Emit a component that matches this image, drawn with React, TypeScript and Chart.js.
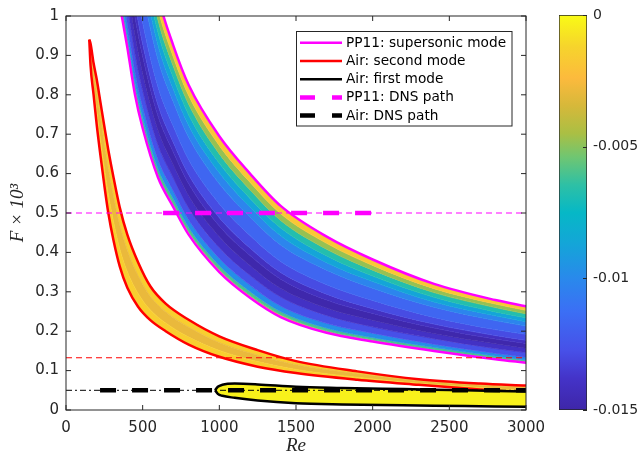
import React, { useEffect, useRef } from 'react';
import { Chart, registerables } from 'chart.js';

Chart.register(...registerables);

// ---------- axes ----------
const X_TICKS = [0, 500, 1000, 1500, 2000, 2500, 3000];
const X_TICK_LABELS = ['0', '500', '1000', '1500', '2000', '2500', '3000'];
const Y_TICKS = [0, 0.1, 0.2, 0.3, 0.4, 0.5, 0.6, 0.7, 0.8, 0.9, 1];
const Y_TICK_LABELS = ['0', '0.1', '0.2', '0.3', '0.4', '0.5', '0.6', '0.7', '0.8', '0.9', '1'];
const CB_TICKS = [-0.015, -0.01, -0.005, 0];
const CB_TICK_LABELS = ['-0.015', '-0.01', '-0.005', '0'];
const CB_MIN = -0.015;
const CB_MAX = 0;

// ---------- PP11 supersonic mode: iso-contours of growth rate (top to bottom) ----------
const SS_RE = [350, 400, 450, 500, 600, 700, 800, 1000, 1200, 1400, 1700, 2000, 2400, 2800, 3000];
const SS_UPPER = [1.70, 1.52, 1.38, 1.25, 1.05, 0.925, 0.825, 0.695, 0.600, 0.518, 0.440, 0.382, 0.320, 0.279, 0.263];
const SS_C1 = [1.653, 1.478, 1.339, 1.213, 1.018, 0.896, 0.798, 0.671, 0.578, 0.498, 0.423, 0.367, 0.308, 0.269, 0.253];
const SS_C2 = [1.613, 1.442, 1.305, 1.18, 0.99, 0.872, 0.776, 0.65, 0.559, 0.481, 0.408, 0.355, 0.298, 0.26, 0.244];
const SS_C3 = [1.566, 1.40, 1.264, 1.143, 0.958, 0.843, 0.749, 0.626, 0.537, 0.462, 0.391, 0.34, 0.286, 0.249, 0.234];
const SS_C4 = [1.519, 1.358, 1.223, 1.106, 0.926, 0.814, 0.722, 0.602, 0.515, 0.442, 0.374, 0.326, 0.274, 0.239, 0.224];
const SS_C5 = [1.466, 1.31, 1.177, 1.063, 0.889, 0.782, 0.692, 0.574, 0.49, 0.419, 0.355, 0.309, 0.261, 0.227, 0.213];
const SS_C6 = [1.365, 1.22, 1.09, 0.983, 0.82, 0.72, 0.635, 0.523, 0.443, 0.377, 0.318, 0.278, 0.235, 0.204, 0.192];
const SS_C7 = [1.298, 1.16, 1.032, 0.929, 0.774, 0.679, 0.597, 0.488, 0.411, 0.349, 0.294, 0.257, 0.218, 0.189, 0.177];
const SS_C8 = [1.258, 1.124, 0.997, 0.897, 0.746, 0.654, 0.574, 0.467, 0.392, 0.332, 0.279, 0.245, 0.208, 0.18, 0.169];
const SS_C9 = [1.204, 1.076, 0.951, 0.854, 0.71, 0.622, 0.544, 0.44, 0.367, 0.309, 0.259, 0.228, 0.194, 0.168, 0.157];
const SS_C10 = [1.151, 1.028, 0.904, 0.811, 0.673, 0.589, 0.513, 0.412, 0.342, 0.287, 0.24, 0.211, 0.181, 0.156, 0.146];
const SS_C11 = [1.097, 0.98, 0.858, 0.769, 0.636, 0.556, 0.483, 0.385, 0.317, 0.264, 0.22, 0.195, 0.167, 0.144, 0.134];
const SS_C12 = [1.064, 0.95, 0.829, 0.742, 0.613, 0.536, 0.464, 0.367, 0.301, 0.25, 0.208, 0.184, 0.159, 0.137, 0.127];
const SS_C13 = [1.043, 0.932, 0.812, 0.726, 0.599, 0.523, 0.453, 0.357, 0.291, 0.242, 0.201, 0.178, 0.153, 0.132, 0.123];
const SS_LOWER = [1.03, 0.92, 0.80, 0.715, 0.59, 0.515, 0.445, 0.35, 0.285, 0.236, 0.196, 0.174, 0.150, 0.129, 0.120];
// growth rate inside each band between consecutive contours
const SS_BAND_LEVELS = [-0.0018, -0.0048, -0.00675, -0.0087, -0.0102, -0.0117, -0.0129, -0.0141, -0.01485, -0.01395, -0.01275, -0.00975, -0.006, -0.0018];

// ---------- Air second mode ----------
const SM_RE = [152, 160, 180, 200, 225, 250, 276, 310, 350, 400, 470, 550, 650, 800, 1000, 1250, 1500, 1900, 2300, 2700, 3000];
const SM_OUTER = [0.94, 0.875, 0.80, 0.725, 0.645, 0.57, 0.50, 0.43, 0.365, 0.31, 0.262, 0.228, 0.20, 0.166, 0.135, 0.11, 0.094, 0.077, 0.064, 0.052, 0.044];
const SM_MID1 = [0.94, 0.892, 0.824, 0.76, 0.686, 0.615, 0.548, 0.478, 0.41, 0.351, 0.296, 0.254, 0.221, 0.185, 0.151, 0.123, 0.103, 0.083, 0.068, 0.057, 0.049];
const SM_MID2 = [0.94, 0.914, 0.856, 0.806, 0.74, 0.675, 0.612, 0.542, 0.47, 0.405, 0.341, 0.288, 0.249, 0.21, 0.171, 0.139, 0.115, 0.092, 0.074, 0.063, 0.057];
const SM_INNER = [0.94, 0.93, 0.88, 0.84, 0.78, 0.72, 0.66, 0.59, 0.515, 0.445, 0.375, 0.314, 0.27, 0.229, 0.187, 0.152, 0.124, 0.098, 0.078, 0.067, 0.062];
const SM_BAND_LEVELS = [-0.0015, -0.0029, -0.0015];

// ---------- Air first mode ----------
const FM_RE = [972, 990, 1020, 1100, 1250, 1500, 1800, 2200, 2600, 3000];
const FM_UPPER = [0.050, 0.059, 0.064, 0.067, 0.065, 0.059, 0.056, 0.053, 0.050, 0.047];
const FM_LOWER = [0.050, 0.041, 0.036, 0.031, 0.024, 0.017, 0.014, 0.012, 0.010, 0.008];
const FM_LEVEL = -0.0003;

// ---------- reference lines and DNS paths ----------
const REF_RE = [0, 3000];
const PP11_REF_F = [0.5, 0.5];
const AIR2_REF_F = [0.1326, 0.1326];
const AIR1_REF_F = [0.05, 0.05];
const PP11_DNS_RE = [633, 2000];
const PP11_DNS_F = [0.5, 0.5];
const AIR_DNS_RE = [222, 3000];
const AIR_DNS_F = [0.05, 0.05];

const LEGEND_LABELS = ['PP11: supersonic mode', 'Air: second mode', 'Air: first mode', 'PP11: DNS path', 'Air: DNS path'];

// parula-like colormap stops
const PARULA: [number, string][] = [
  [0, '#3e26a8'], [0.08, '#4433c8'], [0.15, '#4750e8'], [0.25, '#3b6ff5'], [0.33, '#2a88ec'],
  [0.42, '#14a5d8'], [0.5, '#06b8c6'], [0.57, '#2ec0a5'], [0.64, '#6fc672'], [0.7, '#aabf44'],
  [0.77, '#d6b83a'], [0.84, '#fcba3d'], [0.92, '#f6d42c'], [1, '#f9fb15'],
];

function hexRgb(h: string) {
  const n = parseInt(h.slice(1), 16);
  return [(n >> 16) & 255, (n >> 8) & 255, n & 255];
}
function colorAtT(t: number) {
  t = Math.max(0, Math.min(1, t));
  for (let i = 1; i < PARULA.length; i++) {
    if (t <= PARULA[i][0]) {
      const [t0, c0] = PARULA[i - 1];
      const [t1, c1] = PARULA[i];
      const f = (t - t0) / (t1 - t0);
      const a = hexRgb(c0), b = hexRgb(c1);
      return `rgb(${Math.round(a[0] + (b[0] - a[0]) * f)},${Math.round(a[1] + (b[1] - a[1]) * f)},${Math.round(a[2] + (b[2] - a[2]) * f)})`;
    }
  }
  return PARULA[PARULA.length - 1][1];
}
function colorAt(level: number) {
  return colorAtT((level - CB_MIN) / (CB_MAX - CB_MIN));
}

const pts = (xs: number[], ys: number[]) => xs.map((x, i) => ({ x, y: ys[i] }));

function buildDatasets() {
  const ds: any[] = [];
  const add = (d: any) => {
    ds.push({ pointRadius: 0, pointHoverRadius: 0, cubicInterpolationMode: 'monotone', ...d });
    return ds.length - 1;
  };
  const bands = (re: number[], contours: number[][], levels: number[], order: number) => {
    let prev = add({ data: pts(re, contours[0]), fill: false, borderWidth: 0, order });
    for (let i = 1; i < contours.length; i++) {
      const c = colorAt(levels[i - 1]);
      prev = add({ data: pts(re, contours[i]), fill: prev, backgroundColor: c, borderColor: c, borderWidth: 0.8, order });
    }
  };
  const line = (xs: number[], ys: number[], color: string, width: number, order: number, dash: number[] = []) =>
    add({ data: pts(xs, ys), fill: false, borderColor: color, borderWidth: width, borderDash: dash, order });

  // supersonic mode band
  bands(
    SS_RE,
    [SS_UPPER, SS_C1, SS_C2, SS_C3, SS_C4, SS_C5, SS_C6, SS_C7, SS_C8, SS_C9, SS_C10, SS_C11, SS_C12, SS_C13, SS_LOWER],
    SS_BAND_LEVELS,
    100,
  );
  line(SS_RE, SS_UPPER, '#ff00ff', 2.5, 90);
  line(SS_RE, SS_LOWER, '#ff00ff', 2.5, 90);
  // second mode
  bands(SM_RE, [SM_OUTER, SM_MID1, SM_MID2, SM_INNER], SM_BAND_LEVELS, 80);
  line(SM_RE, SM_OUTER, '#ff0000', 2.5, 70);
  line(SM_RE, SM_INNER, '#ff0000', 2.5, 70);
  // first mode
  bands(FM_RE, [FM_LOWER, FM_UPPER], [FM_LEVEL], 60);
  line(FM_RE, FM_UPPER, '#000000', 2.5, 55);
  line(FM_RE, FM_LOWER, '#000000', 2.5, 55);
  // reference lines
  line(REF_RE, PP11_REF_F, '#ff00ff', 1, 40, [6, 4]);
  line(REF_RE, AIR2_REF_F, '#ff0000', 1, 40, [6, 4]);
  line(REF_RE, AIR1_REF_F, '#000000', 1, 40, [6, 3, 2, 3]);
  // DNS paths
  line(PP11_DNS_RE, PP11_DNS_F, '#ff00ff', 4.5, 30, [16, 16]);
  line(AIR_DNS_RE, AIR_DNS_F, '#000000', 4.5, 30, [16, 16]);
  return ds;
}

const LEGEND_STYLES = [
  { color: '#ff00ff', width: 2.5, dash: [] as number[] },
  { color: '#ff0000', width: 2.5, dash: [] as number[] },
  { color: '#000000', width: 2.5, dash: [] as number[] },
  { color: '#ff00ff', width: 4.5, dash: [15, 17] },
  { color: '#000000', width: 4.5, dash: [15, 17] },
];

const framePlugin = {
  id: 'frameAndLegend',
  afterDatasetsDraw(chart: any) {
    const { ctx, chartArea: a, scales } = chart;
    ctx.save();
    ctx.strokeStyle = '#262626';
    ctx.lineWidth = 1;
    ctx.setLineDash([]);
    ctx.strokeRect(a.left, a.top, a.right - a.left, a.bottom - a.top);
    ctx.beginPath();
    X_TICKS.forEach((v) => {
      const x = scales.x.getPixelForValue(v);
      ctx.moveTo(x, a.bottom); ctx.lineTo(x, a.bottom - 5);
      ctx.moveTo(x, a.top); ctx.lineTo(x, a.top + 5);
    });
    Y_TICKS.forEach((v) => {
      const y = scales.y.getPixelForValue(v);
      ctx.moveTo(a.left, y); ctx.lineTo(a.left + 5, y);
      ctx.moveTo(a.right, y); ctx.lineTo(a.right - 5, y);
    });
    ctx.stroke();
    ctx.restore();
  },
  afterDraw(chart: any) {
    const { ctx, chartArea: a } = chart;
    const bx = a.left + 230, by = a.top + 15.5, bw = 215.5, bh = 94.5;
    ctx.save();
    ctx.fillStyle = '#ffffff';
    ctx.fillRect(bx, by, bw, bh);
    ctx.strokeStyle = '#262626';
    ctx.lineWidth = 1;
    ctx.strokeRect(bx + 0.5, by, bw, bh);
    ctx.font = "13.7px 'DejaVu Sans', sans-serif";
    ctx.textBaseline = 'middle';
    ctx.textAlign = 'left';
    LEGEND_LABELS.forEach((label, i) => {
      const y = by + 11.3 + i * 18.2;
      const s = LEGEND_STYLES[i];
      ctx.beginPath();
      ctx.strokeStyle = s.color;
      ctx.lineWidth = s.width;
      ctx.setLineDash(s.dash);
      ctx.lineCap = 'butt';
      ctx.moveTo(bx + 4, y);
      ctx.lineTo(bx + 46, y);
      ctx.stroke();
      ctx.setLineDash([]);
      ctx.fillStyle = '#000000';
      ctx.fillText(label, bx + 50, y + 0.5);
    });
    ctx.restore();
  },
};

const cbPlugin = {
  id: 'cbTicks',
  afterDatasetsDraw(chart: any) {
    const { ctx, chartArea: a, scales } = chart;
    ctx.save();
    ctx.strokeStyle = '#262626';
    ctx.lineWidth = 1;
    ctx.beginPath();
    CB_TICKS.forEach((v) => {
      const y = Math.round(scales.y.getPixelForValue(v)) + 0.5;
      ctx.moveTo(a.right - 4, y); ctx.lineTo(a.right, y);
    });
    ctx.stroke();
    ctx.restore();
  },
};

export default function App() {
  const mainRef = useRef<HTMLCanvasElement>(null);
  const cbRef = useRef<HTMLCanvasElement>(null);

  useEffect(() => {
    Chart.defaults.font.family = "'DejaVu Sans', sans-serif";
    Chart.defaults.color = '#262626';

    const main = new Chart(mainRef.current as HTMLCanvasElement, {
      type: 'line',
      data: { datasets: buildDatasets() },
      plugins: [framePlugin],
      options: {
        responsive: false,
        animation: false,
        events: [],
        layout: { padding: { top: 14, right: 113, left: 0, bottom: 0 } },
        elements: { line: { capBezierPoints: false } as any, point: { radius: 0 } },
        plugins: { legend: { display: false }, tooltip: { enabled: false } },
        scales: {
          x: {
            type: 'linear',
            min: 0,
            max: 3000,
            afterFit: (s: any) => { s.height = 44; },
            afterBuildTicks: (s: any) => { s.ticks = X_TICKS.map((v) => ({ value: v })); },
            grid: { display: false, drawTicks: false },
            border: { display: false },
            ticks: {
              padding: 9,
              autoSkip: false,
              maxRotation: 0,
              font: { size: 15 },
              color: '#262626',
              callback: (_v: any, i: number) => X_TICK_LABELS[i],
            },
            title: {
              display: true,
              text: 'Re',
              color: '#262626',
              padding: 0,
              font: { family: "'Liberation Serif', serif", style: 'italic', size: 19, lineHeight: 0.85 },
            },
          },
          y: {
            type: 'linear',
            min: 0,
            max: 1,
            afterFit: (s: any) => { s.width = 66; },
            afterBuildTicks: (s: any) => { s.ticks = Y_TICKS.map((v) => ({ value: v })); },
            grid: { display: false, drawTicks: false },
            border: { display: false },
            ticks: {
              padding: 7,
              autoSkip: false,
              font: { size: 15 },
              color: '#262626',
              callback: (_v: any, i: number) => Y_TICK_LABELS[i],
            },
            title: {
              display: true,
              text: 'F × 10³',
              color: '#262626',
              padding: { top: 8.5, bottom: 0 },
              font: { family: "'Liberation Serif', serif", style: 'italic', size: 19, lineHeight: 1 },
            },
          },
        },
      } as any,
    });

    const cb = new Chart(cbRef.current as HTMLCanvasElement, {
      type: 'bar',
      data: {
        labels: [''],
        datasets: [
          {
            data: [[CB_MIN, CB_MAX]] as any,
            barPercentage: 1,
            categoryPercentage: 1,
            borderColor: '#262626',
            borderWidth: 1,
            borderSkipped: false,
            backgroundColor: (c: any) => {
              const area = c.chart.chartArea;
              if (!area) return '#888';
              const g = c.chart.ctx.createLinearGradient(0, area.bottom, 0, area.top);
              PARULA.forEach(([t, col]) => g.addColorStop(t, col));
              return g;
            },
          },
        ],
      },
      plugins: [cbPlugin],
      options: {
        responsive: false,
        animation: false,
        events: [],
        layout: { padding: { top: 15, left: 19, right: 0, bottom: 44 } },
        plugins: { legend: { display: false }, tooltip: { enabled: false } },
        scales: {
          x: { display: false },
          y: {
            position: 'right',
            min: CB_MIN,
            max: CB_MAX,
            afterFit: (s: any) => { s.width = 52; },
            afterBuildTicks: (s: any) => { s.ticks = CB_TICKS.map((v) => ({ value: v })); },
            grid: { display: false, drawTicks: false },
            border: { display: false },
            ticks: {
              padding: 6,
              font: { size: 14 },
              color: '#262626',
              callback: (_v: any, i: number) => CB_TICK_LABELS[i],
            },
          },
        },
      } as any,
    });

    return () => {
      main.destroy();
      cb.destroy();
    };
  }, []);

  return (
    <div style={{ position: 'fixed', left: 0, top: 0, width: 639, height: 454, background: '#ffffff' }}>
      <canvas ref={mainRef} width={639} height={454} style={{ position: 'absolute', left: 0, top: 0 }} />
      <canvas ref={cbRef} width={99} height={454} style={{ position: 'absolute', left: 540, top: 0 }} />
    </div>
  );
}
